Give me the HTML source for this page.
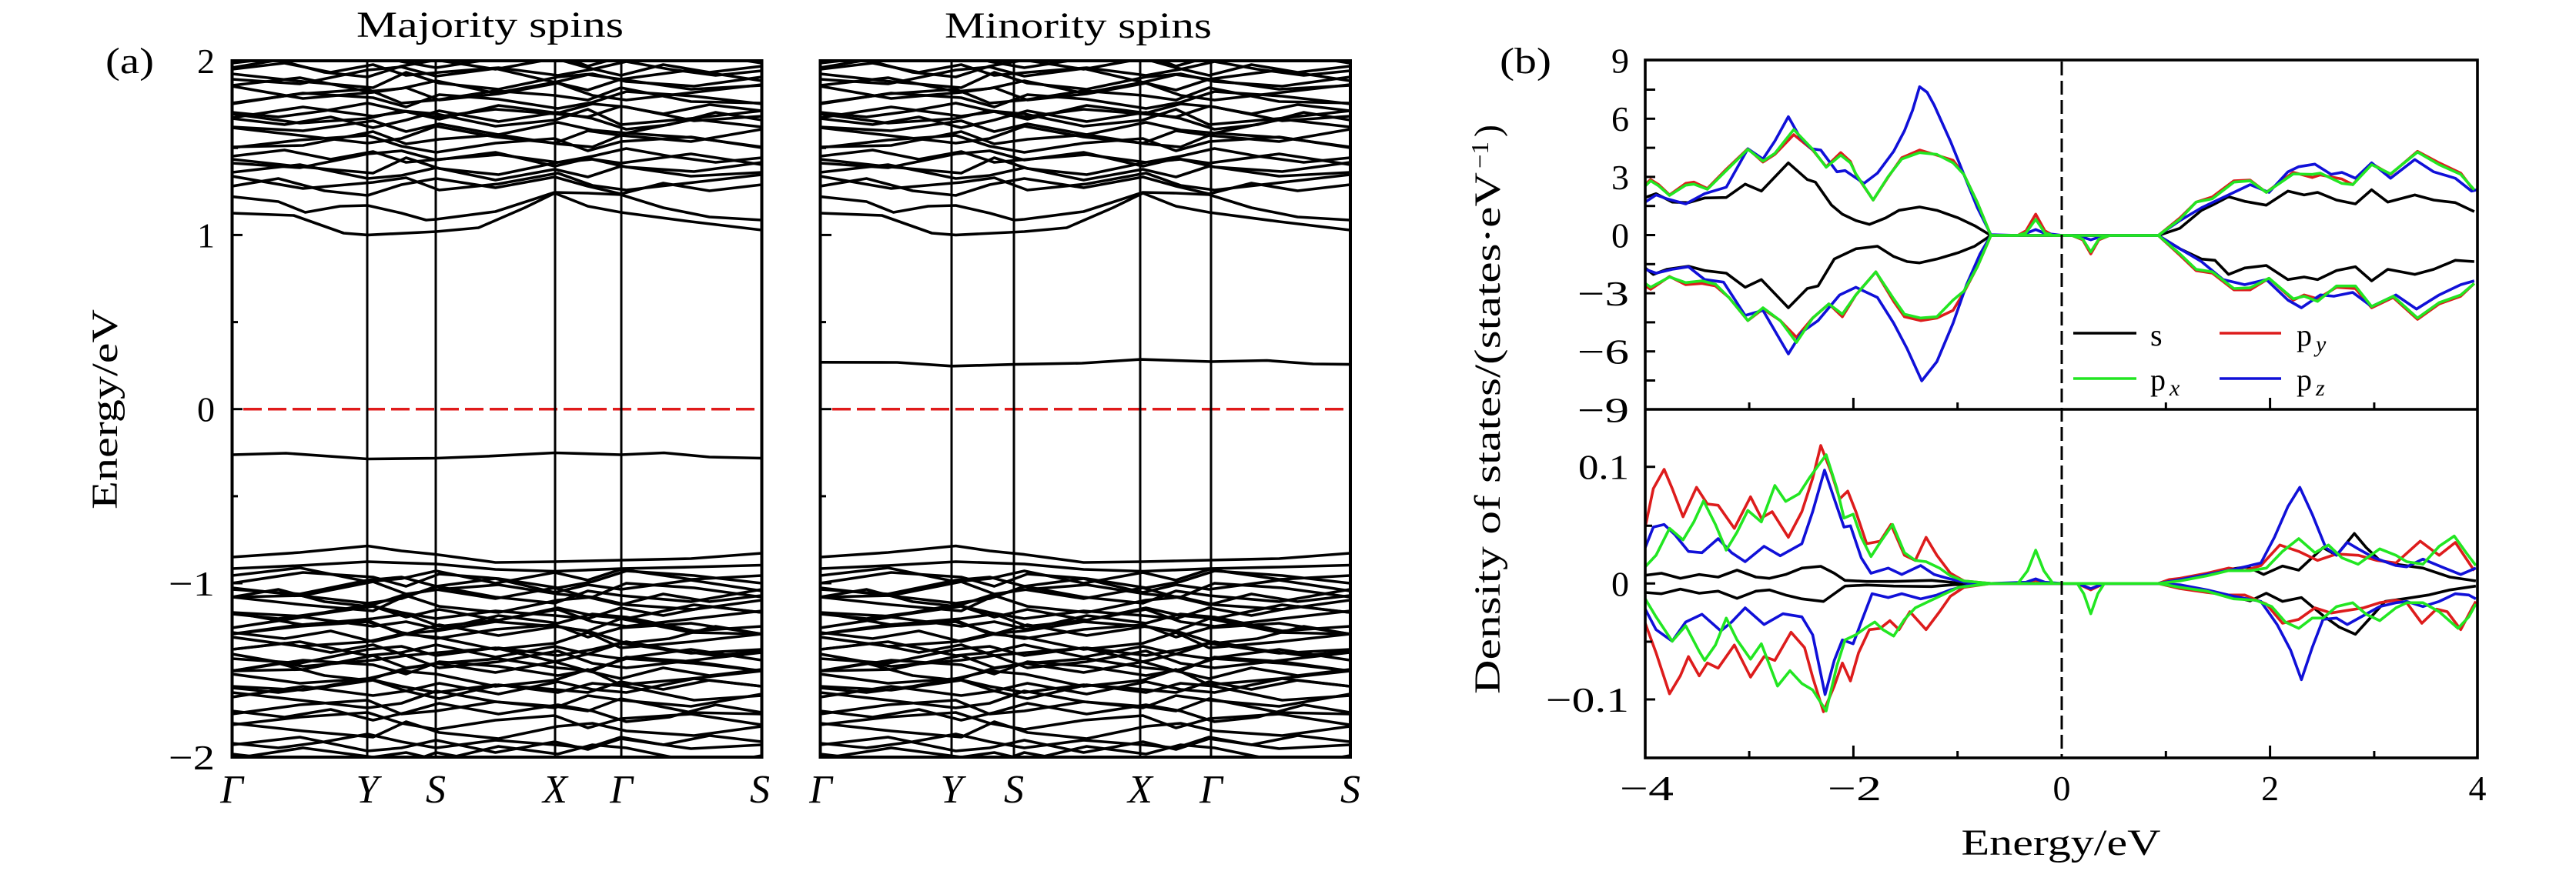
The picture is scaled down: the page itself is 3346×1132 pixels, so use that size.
<!DOCTYPE html>
<html><head><meta charset="utf-8"><style>
html,body{margin:0;padding:0;background:#fff;}
svg{display:block;}
.nv polyline{vector-effect:non-scaling-stroke;}
</style></head><body>
<svg xmlns="http://www.w3.org/2000/svg" xmlns:xlink="http://www.w3.org/1999/xlink" width="3346" height="1132" viewBox="0 0 3346 1132" font-family="'Liberation Serif', serif">
<rect width="3346" height="1132" fill="#fff"/>
<defs>
<clipPath id="bc"><rect x="0" y="79" width="689" height="905"/></clipPath>
<clipPath id="dt"><rect x="2137" y="78" width="1081" height="454"/></clipPath>
<clipPath id="db"><rect x="2137" y="532" width="1081" height="453"/></clipPath>
<polyline id="a" points="0,0 88,-10 176,8 220,4 265,-6 342,10 419,-4 462,6 505,-8 596,5 688,0"/>
<polyline id="b" points="0,6 88,12 176,-6 220,-10 265,2 342,-8 419,10 462,0 505,6 596,-6 688,8"/>
<polyline id="c" points="0,-8 88,2 176,12 220,6 265,-10 342,4 419,12 462,-4 505,2 596,10 688,-6"/>
<polyline id="d" points="0,4 88,-6 176,-12 220,2 265,10 342,-2 419,-8 462,8 505,-4 596,-10 688,4"/>
<polyline id="e" points="0,-4 88,8 176,2 220,-8 265,-4 342,12 419,4 462,-10 505,10 596,2 688,-8"/>
<polyline id="f" points="0,10 88,-2 176,-8 220,10 265,6 342,-6 419,0 462,6 505,-10 596,8 688,10"/>
<polyline id="g" points="0,-2 60,-12 120,4 176,10 220,-4 265,-12 342,0 419,-14 462,-2 505,8 560,-6 620,4 688,-4"/>
<polyline id="h" points="0,8 60,14 120,6 176,-4 220,6 265,14 342,4 419,10 462,14 505,0 560,10 620,-2 688,6"/>
<g id="common">
<polyline points="0,277 80,280 145,303 176,305.4 265,301 320,296 380,270 419,251 462,268 505,276 596,288 688,299"/>
<polyline points="0,255.6 60,262 95,276 140,268 176,267 220,277 252,286 265,285 342,275 419,250 462,251 505,253 560,270 620,282 688,286"/>
<use href="#g" y="244"/>
<use href="#c" transform="matrix(-1 0 0 1 688 235)"/>
<use href="#a" y="224"/>
<use href="#e" transform="matrix(-1 0 0 1 688 215)"/>
<use href="#b" y="206"/>
<use href="#h" transform="matrix(-1 0 0 1 688 197)"/>
<use href="#d" y="188"/>
<use href="#f" transform="matrix(-1 0 0 1 688 181)"/>
<use href="#c" y="174"/>
<use href="#a" transform="matrix(-1 0 0 1 688 165)"/>
<use href="#g" transform="matrix(-1 0 0 1 688 158)"/>
<use href="#e" y="152"/>
<use href="#b" transform="matrix(-1 0 0 1 688 145)"/>
<use href="#h" y="138"/>
<use href="#d" transform="matrix(-1 0 0 1 688 131)"/>
<use href="#f" y="124"/>
<use href="#c" transform="matrix(-1 0 0 1 688 118)"/>
<use href="#a" y="111"/>
<use href="#e" transform="matrix(-1 0 0 1 688 104)"/>
<use href="#b" y="97"/>
<use href="#g" y="90"/>
<use href="#h" transform="matrix(-1 0 0 1 688 84)"/>
<use href="#d" y="78"/>
<polyline points="0,724 88,718 176,709.5 220,716 265,720.6 342,731 419,730 462,729 505,728 596,726 688,719"/>
<polyline points="0,739 88,735 176,730 265,733 342,740 419,742.5 505,739 596,737 688,734.5"/>
<use href="#a" y="748"/>
<use href="#d" transform="matrix(-1 0 0 1 688 754)"/>
<use href="#b" y="760"/>
<use href="#f" transform="matrix(-1 0 0 1 688 766)"/>
<use href="#c" y="772"/>
<use href="#g" y="778"/>
<use href="#e" transform="matrix(-1 0 0 1 688 784)"/>
<use href="#h" y="790"/>
<use href="#a" transform="matrix(-1 0 0 1 688 796)"/>
<use href="#c" transform="matrix(-1 0 0 1 688 802)"/>
<use href="#b" transform="matrix(-1 0 0 1 688 808)"/>
<use href="#f" y="814"/>
<use href="#d" y="820"/>
<use href="#g" transform="matrix(-1 0 0 1 688 826)"/>
<use href="#e" y="832"/>
<use href="#h" transform="matrix(-1 0 0 1 688 838)"/>
<use href="#a" y="844"/>
<use href="#b" y="850"/>
<use href="#c" transform="matrix(-1 0 0 1 688 856)"/>
<use href="#f" transform="matrix(-1 0 0 1 688 862)"/>
<use href="#d" transform="matrix(-1 0 0 1 688 868)"/>
<use href="#g" y="874"/>
<use href="#e" y="880"/>
<use href="#h" y="886"/>
<use href="#a" transform="matrix(-1 0 0 1 688 892)"/>
<use href="#b" transform="matrix(-1 0 0 1 688 898)"/>
<use href="#c" y="908"/>
<use href="#f" y="918"/>
<use href="#g" transform="matrix(-1 0 0 1 688 928)"/>
<use href="#d" y="938"/>
<use href="#e" transform="matrix(-1 0 0 1 688 948)"/>
<use href="#h" y="958"/>
<use href="#a" y="968"/>
<use href="#b" transform="matrix(-1 0 0 1 688 978)"/>
<use href="#c" y="988"/>
</g>
</defs>

<!-- ===== Panel (a) majority ===== -->
<g transform="translate(301.5,0)">
<g clip-path="url(#bc)" fill="none" stroke="#000" stroke-width="3.6" stroke-linejoin="round">
<use href="#common"/>
<polyline points="0,591 70,589 176,596.5 265,595.5 330,593 419,588.5 505,591 561,588.5 620,594 688,595.5"/>
</g>
</g>
<!-- ===== Panel (a) minority ===== -->
<g transform="translate(1065.5,0)">
<g clip-path="url(#bc)" fill="none" stroke="#000" stroke-width="3.6" stroke-linejoin="round">
<use href="#common"/>
<polyline points="0,470.8 100,471 171,475.8 252,473.6 340,472 416,467.1 508,470 580,468.5 640,473 689,473.6"/>
</g>
</g>

<!-- red fermi lines -->
<line x1="316" y1="531.7" x2="988" y2="531.7" stroke="#e01b1b" stroke-width="3.5" stroke-dasharray="24 8"/>
<line x1="1081" y1="531.7" x2="1752" y2="531.7" stroke="#e01b1b" stroke-width="3.5" stroke-dasharray="24 8"/>

<!-- high symmetry lines -->
<g stroke="#000" stroke-width="3">
<line x1="477" y1="79" x2="477" y2="984"/>
<line x1="566" y1="79" x2="566" y2="984"/>
<line x1="721" y1="79" x2="721" y2="984"/>
<line x1="807" y1="79" x2="807" y2="984"/>
<line x1="1236" y1="79" x2="1236" y2="984"/>
<line x1="1317" y1="79" x2="1317" y2="984"/>
<line x1="1481" y1="79" x2="1481" y2="984"/>
<line x1="1573" y1="79" x2="1573" y2="984"/>
</g>
<!-- frames -->
<g fill="none" stroke="#000" stroke-width="4">
<rect x="301.5" y="79" width="688" height="905"/>
<rect x="1065.5" y="79" width="688.5" height="905"/>
</g>
<!-- band ticks -->
<g stroke="#000" stroke-width="3">
<line x1="301.5" y1="192.3" x2="309" y2="192.3"/>
<line x1="301.5" y1="305.4" x2="315" y2="305.4"/>
<line x1="301.5" y1="418.6" x2="309" y2="418.6"/>
<line x1="301.5" y1="531.7" x2="315" y2="531.7"/>
<line x1="301.5" y1="644.9" x2="309" y2="644.9"/>
<line x1="301.5" y1="758" x2="315" y2="758"/>
<line x1="301.5" y1="871.2" x2="309" y2="871.2"/>
<line x1="1065.5" y1="192.3" x2="1073" y2="192.3"/>
<line x1="1065.5" y1="305.4" x2="1080" y2="305.4"/>
<line x1="1065.5" y1="418.6" x2="1073" y2="418.6"/>
<line x1="1065.5" y1="531.7" x2="1080" y2="531.7"/>
<line x1="1065.5" y1="644.9" x2="1073" y2="644.9"/>
<line x1="1065.5" y1="758" x2="1080" y2="758"/>
<line x1="1065.5" y1="871.2" x2="1073" y2="871.2"/>
</g>

<!-- panel (a) text -->
<g fill="#000">
<text x="137" y="95" font-size="48" textLength="63" lengthAdjust="spacingAndGlyphs">(a)</text>
<text x="636.5" y="48" font-size="48" text-anchor="middle" textLength="347" lengthAdjust="spacingAndGlyphs">Majority spins</text>
<text x="1400.5" y="49" font-size="48" text-anchor="middle" textLength="347" lengthAdjust="spacingAndGlyphs">Minority spins</text>
<g font-size="46" text-anchor="end">
<text x="279" y="95">2</text>
<text x="279" y="321.4">1</text>
<text x="279" y="547.7">0</text>
<text x="279" y="774" textLength="60" lengthAdjust="spacingAndGlyphs">−1</text>
<text x="279" y="1000" textLength="60" lengthAdjust="spacingAndGlyphs">−2</text>
</g>
<text transform="translate(152,532) rotate(-90)" font-size="48" text-anchor="middle" textLength="260" lengthAdjust="spacingAndGlyphs">Energy/eV</text>
<g font-size="52" font-style="italic" text-anchor="middle">
<text x="301" y="1043">Γ</text>
<text x="477" y="1043">Y</text>
<text x="566" y="1043">S</text>
<text x="721" y="1043">X</text>
<text x="807" y="1043">Γ</text>
<text x="987" y="1043">S</text>
<text x="1066" y="1043">Γ</text>
<text x="1236" y="1043">Y</text>
<text x="1317" y="1043">S</text>
<text x="1481" y="1043">X</text>
<text x="1573" y="1043">Γ</text>
<text x="1754" y="1043">S</text>
</g>
</g>

<!-- ===== Panel (b) DOS ===== -->
<!-- top panel curves -->
<g clip-path="url(#dt)">
<g class="nv" transform="matrix(0.7015 0 0 0.333333 2130 70)" fill="none" stroke-width="3.6" stroke-linejoin="round">
<polyline stroke="#000" points="10,560 30,545 60,578 90,580 120,562 160,560 195,508 225,535 275,425 310,490 325,500 355,590 375,625 400,650 425,665 455,640 480,610 518,597 550,610 590,640 620,670 650,708 960,708 1000,680 1040,610 1060,590 1090,557 1120,575 1160,590 1200,535 1230,550 1255,540 1290,570 1325,585 1355,530 1385,578 1435,550 1470,570 1510,580 1545,615"/>
<polyline stroke="#000" points="10,835 25,860 50,840 90,828 120,845 160,855 195,910 225,880 275,990 310,915 330,905 360,800 400,760 440,750 470,790 495,810 518,815 550,800 590,775 620,750 650,708 960,708 1000,760 1040,800 1065,805 1090,860 1120,835 1160,825 1200,880 1230,870 1255,880 1290,845 1325,830 1355,885 1385,840 1435,860 1470,840 1510,805 1545,810"/>
<polyline stroke="#dd1c1c" points="10,510 20,490 35,510 55,550 85,505 100,500 125,525 160,450 200,370 228,422 250,392 285,315 320,375 345,440 372,385 390,420 400,470 432,570 460,480 485,405 518,375 550,395 580,415 600,470 625,580 650,708 700,708 715,690 733,625 750,690 765,708 960,708 1000,640 1030,578 1060,558 1100,495 1130,492 1160,540 1210,462 1245,482 1260,472 1300,488 1320,510 1355,428 1390,470 1440,380 1480,425 1520,465 1545,535"/>
<polyline stroke="#dd1c1c" points="10,905 20,918 55,868 85,900 115,895 140,905 165,950 200,1040 228,995 260,1040 290,1105 320,1030 350,975 375,1025 400,940 437,850 470,965 490,1025 520,1040 550,1030 580,1000 600,930 625,830 650,708 800,708 820,725 835,780 850,725 870,708 960,708 1000,785 1030,845 1060,855 1100,920 1130,920 1165,875 1210,960 1230,940 1255,955 1290,910 1325,915 1355,990 1395,950 1440,1035 1480,975 1520,945 1545,895"/>
<polyline stroke="#1010d8" points="10,578 30,550 50,565 85,585 120,545 160,520 200,370 228,410 250,340 275,245 295,320 318,370 335,375 365,460 380,455 415,505 440,465 470,380 490,300 505,220 518,128 532,150 545,200 560,270 575,340 600,470 625,600 650,705 700,708 715,700 733,685 750,700 782,708 960,708 1000,650 1040,600 1080,560 1130,510 1165,540 1200,460 1220,440 1250,430 1280,470 1300,462 1325,485 1355,425 1390,485 1435,412 1470,460 1510,485 1540,535 1550,530"/>
<polyline stroke="#1010d8" points="10,840 30,855 60,840 90,830 120,880 155,890 195,1020 228,1000 275,1170 300,1085 330,1040 370,940 400,910 440,950 470,1050 495,1150 522,1275 550,1200 580,1050 605,900 630,780 650,708 810,708 835,725 860,708 960,708 1000,760 1040,810 1080,880 1120,900 1160,880 1200,960 1225,990 1260,940 1285,945 1320,930 1355,985 1400,940 1438,995 1480,940 1520,900 1545,885"/>
<polyline stroke="#22e622" points="10,515 20,495 35,515 55,552 85,512 100,508 125,528 160,455 200,372 228,418 250,388 285,295 320,372 345,442 372,395 390,425 400,468 432,570 460,478 485,410 518,385 550,392 580,425 600,470 625,580 650,708 700,708 715,698 733,645 750,698 765,708 960,708 1000,645 1030,578 1060,565 1100,500 1130,495 1160,540 1210,468 1245,470 1260,465 1300,505 1320,510 1355,432 1390,468 1440,383 1480,432 1520,470 1545,530"/>
<polyline stroke="#22e622" points="10,895 20,910 55,870 85,892 115,885 140,898 165,950 200,1040 228,990 260,1040 290,1125 320,1030 350,975 375,1015 400,940 437,850 470,955 490,1015 520,1030 550,1025 580,960 600,925 625,830 650,708 800,708 820,722 835,772 850,722 870,708 960,708 1000,780 1030,840 1060,850 1100,915 1130,912 1165,875 1210,955 1230,945 1255,965 1290,905 1325,905 1355,985 1395,945 1440,1030 1480,970 1520,940 1545,895"/>
</g>
</g>
<!-- bottom panel curves -->
<g clip-path="url(#db)">
<g class="nv" transform="matrix(0.7015 0 0 0.333333 2130 525)" fill="none" stroke-width="3.6" stroke-linejoin="round">
<polyline stroke="#000" points="10,668 40,660 75,680 110,665 145,675 180,648 215,675 240,680 270,665 300,640 335,633 360,660 380,688 420,692 470,692 540,688 580,696 650,700 960,700 1000,685 1050,665 1090,645 1125,635 1155,665 1190,632 1220,648 1265,560 1290,590 1323,505 1345,560 1370,610 1400,625 1450,640 1500,675 1548,690"/>
<polyline stroke="#000" points="10,735 40,740 75,722 110,738 145,730 180,758 215,730 240,725 270,745 300,760 340,770 360,740 380,710 420,706 470,710 540,712 580,705 650,700 960,700 1000,710 1050,730 1100,752 1130,768 1160,738 1190,770 1225,755 1265,825 1295,870 1325,898 1350,840 1380,770 1420,758 1460,745 1500,725 1548,710"/>
<polyline stroke="#dd1c1c" points="10,480 25,330 45,255 60,330 80,440 105,325 125,390 145,395 175,485 205,362 225,445 245,420 275,520 300,420 320,290 335,162 355,270 370,370 385,340 400,420 420,545 445,535 465,470 490,590 510,610 530,520 550,590 575,660 600,690 650,700 715,698 733,688 750,698 782,700 960,700 980,685 1000,680 1050,660 1090,640 1120,650 1150,630 1185,550 1220,575 1255,610 1290,585 1330,590 1365,610 1400,620 1445,535 1480,590 1510,540 1545,650"/>
<polyline stroke="#dd1c1c" points="10,855 30,970 55,1130 75,1060 90,985 110,1060 125,1010 145,1030 175,940 205,1065 230,985 250,1000 280,890 305,950 320,1065 340,1200 360,1100 375,1010 390,1080 405,970 425,880 445,875 463,845 480,880 500,810 530,880 555,810 575,750 600,715 650,700 810,700 835,725 860,700 960,700 1000,720 1050,735 1090,745 1120,745 1160,780 1190,855 1220,840 1250,795 1280,815 1310,805 1340,795 1370,775 1400,765 1420,775 1448,855 1475,800 1495,810 1520,880 1540,800 1548,770"/>
<polyline stroke="#1010d8" points="10,560 25,480 45,470 65,510 90,575 115,580 145,525 170,580 195,615 230,555 260,592 300,545 320,420 342,258 360,370 378,480 390,475 410,600 428,660 460,640 485,665 520,630 545,665 570,680 600,695 650,700 715,695 733,682 750,695 782,700 960,700 1000,685 1050,665 1100,645 1150,620 1175,520 1200,400 1222,325 1245,430 1270,560 1290,590 1310,540 1330,565 1360,600 1400,630 1420,635 1450,605 1490,640 1520,665 1548,640"/>
<polyline stroke="#1010d8" points="10,800 30,880 60,925 85,850 115,820 150,885 170,850 195,795 230,860 265,818 300,830 320,900 343,1133 360,1000 375,920 395,935 410,850 430,740 460,755 485,740 520,760 550,745 575,725 610,705 650,700 810,700 835,720 860,700 960,700 1000,705 1050,725 1100,750 1150,770 1180,860 1205,960 1225,1075 1245,950 1265,840 1290,835 1310,860 1340,825 1370,790 1400,775 1420,770 1450,790 1480,770 1510,740 1535,745 1548,760"/>
<polyline stroke="#22e622" points="10,635 30,590 55,485 80,530 100,460 118,378 140,470 160,570 180,500 200,415 225,460 250,318 270,380 295,350 315,285 345,198 365,330 378,445 395,430 410,520 428,595 445,540 468,470 490,580 510,610 530,615 555,640 575,670 600,690 650,700 700,700 718,650 733,570 748,650 765,700 960,700 1000,690 1050,670 1090,650 1130,650 1160,640 1190,575 1220,525 1250,580 1275,550 1300,600 1330,625 1370,565 1400,590 1420,615 1450,625 1480,555 1508,515 1530,580 1548,630"/>
<polyline stroke="#22e622" points="10,760 30,830 60,925 85,865 110,965 120,1000 140,940 160,835 180,920 205,995 225,935 255,1100 278,1040 300,1090 320,1115 345,1197 365,1020 380,920 400,900 420,870 435,850 450,880 470,905 490,840 510,795 535,770 560,745 590,715 650,700 810,700 822,740 835,818 848,740 860,700 960,700 1000,715 1050,730 1100,760 1140,765 1170,790 1195,850 1220,875 1245,835 1265,835 1290,790 1320,775 1345,820 1370,845 1400,795 1420,775 1450,775 1480,810 1515,875 1535,830 1548,780"/>
</g>
</g>

<!-- dashed zero line -->
<line x1="2678" y1="80" x2="2678" y2="984" stroke="#000" stroke-width="3" stroke-dasharray="18 7"/>

<!-- DOS frame -->
<g fill="none" stroke="#000" stroke-width="3.6">
<rect x="2137" y="78" width="1081" height="907"/>
<line x1="2137" y1="532" x2="3218" y2="532"/>
</g>
<!-- DOS ticks -->
<g stroke="#000" stroke-width="3">
<line x1="2137" y1="116.5" x2="2150" y2="116.5"/>
<line x1="2137" y1="154.3" x2="2150" y2="154.3"/>
<line x1="2137" y1="192.1" x2="2150" y2="192.1"/>
<line x1="2137" y1="229.9" x2="2150" y2="229.9"/>
<line x1="2137" y1="267.7" x2="2150" y2="267.7"/>
<line x1="2137" y1="305.5" x2="2150" y2="305.5"/>
<line x1="2137" y1="343.3" x2="2150" y2="343.3"/>
<line x1="2137" y1="381.1" x2="2150" y2="381.1"/>
<line x1="2137" y1="418.9" x2="2150" y2="418.9"/>
<line x1="2137" y1="456.7" x2="2150" y2="456.7"/>
<line x1="2137" y1="494.5" x2="2150" y2="494.5"/>
<line x1="2137" y1="606.7" x2="2150" y2="606.7"/>
<line x1="2137" y1="683.3" x2="2146" y2="683.3"/>
<line x1="2137" y1="758.3" x2="2150" y2="758.3"/>
<line x1="2137" y1="834" x2="2146" y2="834"/>
<line x1="2137" y1="909" x2="2150" y2="909"/>
<line x1="2272.1" y1="532" x2="2272.1" y2="523"/>
<line x1="2407.4" y1="532" x2="2407.4" y2="517"/>
<line x1="2542.7" y1="532" x2="2542.7" y2="523"/>
<line x1="2813.3" y1="532" x2="2813.3" y2="523"/>
<line x1="2948.6" y1="532" x2="2948.6" y2="517"/>
<line x1="3083.9" y1="532" x2="3083.9" y2="523"/>
<line x1="2272.1" y1="985" x2="2272.1" y2="976"/>
<line x1="2407.4" y1="985" x2="2407.4" y2="969"/>
<line x1="2542.7" y1="985" x2="2542.7" y2="976"/>
<line x1="2813.3" y1="985" x2="2813.3" y2="976"/>
<line x1="2948.6" y1="985" x2="2948.6" y2="969"/>
<line x1="3083.9" y1="985" x2="3083.9" y2="976"/>
</g>

<!-- legend -->
<g stroke-width="3.6">
<line x1="2693" y1="433" x2="2775" y2="433" stroke="#000"/>
<line x1="2883" y1="433" x2="2963" y2="433" stroke="#dd1c1c"/>
<line x1="2693" y1="492" x2="2775" y2="492" stroke="#22e622"/>
<line x1="2883" y1="492" x2="2963" y2="492" stroke="#1010d8"/>
</g>
<g fill="#000" font-size="40">
<text x="2793" y="449">s</text>
<text x="2983" y="449">p</text>
<text x="3008" y="457" font-size="30" font-style="italic">y</text>
<text x="2793" y="507">p</text>
<text x="2818" y="514" font-size="30" font-style="italic">x</text>
<text x="2983" y="507">p</text>
<text x="3008" y="514" font-size="30" font-style="italic">z</text>
</g>

<!-- DOS text -->
<g fill="#000">
<text x="1948" y="95" font-size="48" textLength="67" lengthAdjust="spacingAndGlyphs">(b)</text>
<g font-size="46" text-anchor="end">
<text x="2116" y="94.5">9</text>
<text x="2116" y="170.2">6</text>
<text x="2116" y="245.8">3</text>
<text x="2116" y="321.5">0</text>
<text x="2116" y="397" textLength="67" lengthAdjust="spacingAndGlyphs">−3</text>
<text x="2116" y="472.7" textLength="67" lengthAdjust="spacingAndGlyphs">−6</text>
<text x="2116" y="548.3" textLength="67" lengthAdjust="spacingAndGlyphs">−9</text>
<text x="2116" y="622.7" textLength="66" lengthAdjust="spacingAndGlyphs">0.1</text>
<text x="2116" y="774.3">0</text>
<text x="2116" y="925" textLength="108" lengthAdjust="spacingAndGlyphs">−0.1</text>
</g>
<g font-size="46" text-anchor="middle">
<text x="2139" y="1040" textLength="70" lengthAdjust="spacingAndGlyphs">−4</text>
<text x="2409" y="1040" textLength="70" lengthAdjust="spacingAndGlyphs">−2</text>
<text x="2678" y="1040">0</text>
<text x="2948.6" y="1040">2</text>
<text x="3218" y="1040">4</text>
</g>
<text x="2677" y="1111" font-size="48" text-anchor="middle" textLength="259" lengthAdjust="spacingAndGlyphs">Energy/eV</text>
<text transform="translate(1948,902) rotate(-90)" font-size="48" textLength="678" lengthAdjust="spacingAndGlyphs">Density of states/(states·eV</text>
<text transform="translate(1933,219) rotate(-90)" font-size="32" textLength="35" lengthAdjust="spacingAndGlyphs">−1</text>
<text transform="translate(1948,178) rotate(-90)" font-size="48">)</text>
</g>
</svg>
</body></html>
